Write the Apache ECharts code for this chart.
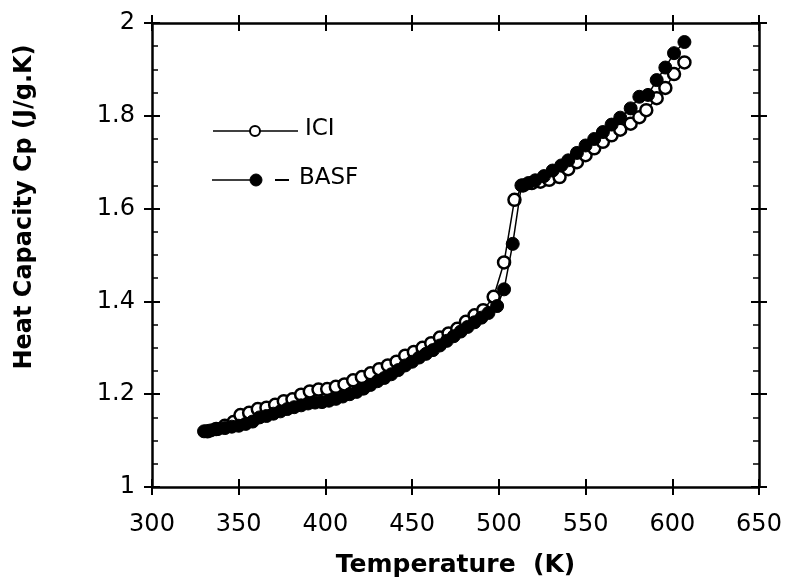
<!DOCTYPE html>
<html>
<head>
<meta charset="utf-8">
<script src="https://cdn.jsdelivr.net/npm/echarts@6/dist/echarts.min.js"></script>
<style>html,body{margin:0;padding:0;background:#fff}#c{width:786px;height:585px}</style>
</head>
<body>
<div id="c"></div>
<script>
var xTicks = [300, 350, 400, 450, 500, 550, 600, 650];
var yTicks = [1, 1.2, 1.4, 1.6, 1.8, 2];
var seriesNames = ['ICI', 'BASF'];
var iciTemp = [332,337,342,347,351,356,361,366,371,376,381,386,391,396,401,406,411,416,421,426,431,436,441,446,451,456,461,466,471,476,481,486,491,497,503,509,514,519,524,529,535,540,545,550,555,560,565,570,576,581,585,591,596,601,607];
var iciCp = [1.120,1.125,1.132,1.140,1.155,1.160,1.168,1.171,1.177,1.185,1.189,1.199,1.206,1.210,1.211,1.216,1.221,1.230,1.237,1.245,1.254,1.262,1.270,1.283,1.291,1.300,1.310,1.322,1.331,1.341,1.356,1.370,1.381,1.410,1.484,1.619,1.650,1.655,1.658,1.662,1.668,1.685,1.700,1.715,1.730,1.744,1.758,1.770,1.783,1.797,1.812,1.838,1.860,1.890,1.915];
var basfTemp = [330,334,338,342,346,350,354,358,362,366,370,374,378,382,386,390,394,398,402,406,410,414,418,422,426,430,434,438,442,446,450,454,458,462,466,470,474,478,482,486,490,494,499,503,508,513,517,521,526,531,536,540,545,550,555,560,565,570,576,581,586,591,596,601,607];
var basfCp = [1.120,1.122,1.125,1.127,1.130,1.132,1.136,1.141,1.150,1.153,1.158,1.163,1.168,1.172,1.176,1.180,1.182,1.183,1.186,1.190,1.195,1.200,1.205,1.212,1.220,1.228,1.235,1.243,1.252,1.262,1.270,1.279,1.287,1.295,1.305,1.315,1.325,1.335,1.345,1.355,1.365,1.375,1.390,1.426,1.524,1.650,1.655,1.661,1.670,1.682,1.693,1.704,1.720,1.736,1.750,1.765,1.781,1.796,1.816,1.841,1.845,1.877,1.904,1.935,1.959];

function pairs(xs, ys) { return xs.map(function (x, i) { return [x, ys[i]]; }); }

var FONT = 'DejaVu Sans';
var chart = echarts.init(document.getElementById('c'), null, {renderer: 'canvas'});

function xAx(pos, inside, showLabel, showLine) {
  return {
    type: 'value', min: xTicks[0], max: xTicks[xTicks.length - 1], interval: 50, position: pos,
    axisLine: {show: showLine, onZero: false, lineStyle: {color: '#000', width: 2.5}},
    axisTick: {show: true, inside: inside, length: 8, lineStyle: {color: '#000', width: 2}},
    axisLabel: {show: showLabel, color: '#000', fontFamily: FONT, fontSize: 24, margin: 26},
    splitLine: {show: false}
  };
}
function yAx(pos, inside, showLabel, showLine, minor) {
  return {
    type: 'value', min: yTicks[0], max: yTicks[yTicks.length - 1], interval: 0.2, position: pos,
    axisLine: {show: showLine, onZero: false, lineStyle: {color: '#000', width: 2.5}},
    axisTick: {show: true, inside: inside, length: 8, lineStyle: {color: '#000', width: 2}},
    minorTick: {show: minor, splitNumber: 4, length: 6, lineStyle: {color: '#000', width: 1.5}},
    axisLabel: {show: showLabel, color: '#000', fontFamily: FONT, fontSize: 24, margin: 17,
      formatter: function (v) { return String(Math.round(v * 10) / 10); }},
    splitLine: {show: false}, minorSplitLine: {show: false}
  };
}

var xAxes = [xAx('bottom', false, true, true), xAx('bottom', true, false, false), xAx('top', true, false, true), xAx('top', false, false, false)];
xAxes[0].name = 'Temperature  (K)';
xAxes[0].nameLocation = 'middle';
xAxes[0].nameGap = 66;
xAxes[0].nameTextStyle = {color: '#000', fontFamily: FONT, fontWeight: 'bold', fontSize: 25};

var yAxes = [yAx('left', false, true, true, false), yAx('left', true, false, false, true), yAx('right', true, false, true, true), yAx('right', false, false, false, false)];
yAxes[0].name = 'Heat Capacity Cp (J/g.K)';
yAxes[0].nameLocation = 'middle';
yAxes[0].nameGap = 115;
yAxes[0].nameRotate = 90;
yAxes[0].nameTextStyle = {color: '#000', fontFamily: FONT, fontWeight: 'bold', fontSize: 24, padding: [0, 0, 0, 96]};

chart.setOption({
  animation: false,
  backgroundColor: '#fff',
  grid: {left: 152, right: 27, top: 23, bottom: 98, containLabel: false},
  xAxis: xAxes,
  yAxis: yAxes,
  series: [
    {name: seriesNames[0], type: 'line', data: pairs(iciTemp, iciCp), xAxisIndex: 0, yAxisIndex: 0,
     symbol: 'circle', symbolSize: 12, z: 2,
     lineStyle: {color: '#000', width: 1.5},
     itemStyle: {color: '#fff', borderColor: '#000', borderWidth: 2.5}},
    {name: seriesNames[1], type: 'line', data: pairs(basfTemp, basfCp), xAxisIndex: 0, yAxisIndex: 0,
     symbol: 'circle', symbolSize: 13, z: 3,
     lineStyle: {color: '#000', width: 1.5},
     itemStyle: {color: '#000', borderColor: '#000', borderWidth: 1}}
  ],
  graphic: [
    {type: 'line', shape: {x1: 213, y1: 131, x2: 298, y2: 131}, style: {stroke: '#000', lineWidth: 1.5}},
    {type: 'circle', shape: {cx: 255, cy: 131, r: 5}, style: {fill: '#fff', stroke: '#000', lineWidth: 2}},
    {type: 'text', left: 305, top: 118, style: {text: seriesNames[0], fill: '#000', font: '23px "DejaVu Sans"'}},
    {type: 'line', shape: {x1: 212, y1: 180, x2: 252, y2: 180}, style: {stroke: '#000', lineWidth: 1.5}},
    {type: 'circle', shape: {cx: 256, cy: 180, r: 6}, style: {fill: '#000', stroke: '#000', lineWidth: 1}},
    {type: 'line', shape: {x1: 275, y1: 180, x2: 289, y2: 180}, style: {stroke: '#000', lineWidth: 2}},
    {type: 'text', left: 299, top: 167, style: {text: seriesNames[1], fill: '#000', font: '23px "DejaVu Sans"'}}
  ]
});
</script>
</body>
</html>
